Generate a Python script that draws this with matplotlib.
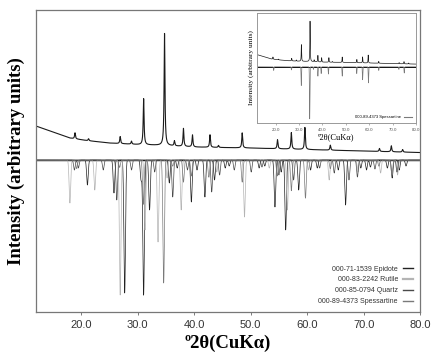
import numpy as np
import matplotlib
matplotlib.use("Agg")
import matplotlib.pyplot as plt

# measured pattern: background points and peaks (2theta, height above background)
bg_pos = [12, 15, 18, 21, 25, 30, 35, 40, 50, 60, 70, 80]
bg_val = [34, 28, 22, 19.5, 17, 15.5, 14.5, 13, 12, 10.5, 9, 7.5]
obs_pos = [18.9, 21.3, 26.9, 28.9, 31.05, 34.75, 36.5, 38.1, 39.7, 42.8, 44.3,
           48.5, 54.75, 57.2, 59.6, 64.1, 72.8, 74.9, 76.9]
obs_int = [6, 2, 7, 3, 46, 112, 5, 18, 12, 12.5, 2, 15, 9, 16.5, 22, 5, 3, 6, 2.5]

# reference patterns (drawn downwards)
epidote_pos = [21.1, 25.8, 27.7, 30.6, 31.05, 32.1, 35.6, 37.0, 39.5, 40.5, 41.9,
               43.6, 45.5, 46.2, 51.5, 52.5, 54.3, 55.4, 56.2, 58.5, 60.6, 61.8,
               65.5, 66.8, 69.5, 70.5, 71.2, 74.2, 75.05, 76.3, 77.5]
epidote_int = [25, 33, 133, 20, 135, 50, 23, 8, 42, 10, 37, 20, 8, 6, 8, 6, 47,
               12, 70, 30, 10, 8, 10, 45, 8, 10, 7, 8, 18, 10, 6]
rutile_pos = [18.0, 22.4, 26.9, 31.3, 33.6, 35.2, 37.7, 44.0, 48.9, 53.3, 56.5,
              60.2, 63.9, 69.0, 73.0, 76.0]
rutile_int = [43, 30, 135, 70, 82, 18, 50, 12, 57, 8, 50, 10, 20, 12, 13, 15]
quartz_pos = [18.8, 19.5, 23.9, 26.3, 28.9, 33.0, 36.2, 38.8, 43.1, 44.5, 47.1,
              50.1, 52.0, 55.0, 57.6, 62.2, 64.8, 67.4, 68.9, 72.0, 75.9]
quartz_int = [10, 8, 10, 40, 10, 12, 37, 10, 32, 15, 10, 12, 7, 15, 20, 8, 13,
              20, 17, 9, 12]
spess_pos = [19.2, 26.8, 31.0, 34.6, 36.2, 38.1, 39.5, 42.6, 48.5, 54.7, 57.2,
             59.7, 64.1, 72.7, 75.0]
spess_int = [7, 6, 36, 100, 5, 18, 13, 14, 18, 13, 25, 31, 7, 5, 12]

labels = ["000-71-1539 Epidote", "000-83-2242 Rutile", "000-85-0794 Quartz",
          "000-89-4373 Spessartine"]
colors = ["#222222", "#b4b4b4", "#4a4a4a", "#7a7a7a"]
xticks = [20, 30, 40, 50, 60, 70, 80]

tt = np.arange(12, 80.005, 0.01)


def profile(pos, inten, w, kind="lor"):
    y = np.zeros_like(tt)
    for p, h in zip(pos, inten):
        if kind == "lor":
            y += h / (1 + ((tt - p) / (w / 2)) ** 2)
        else:
            y += h * np.exp(-0.5 * ((tt - p) / w) ** 2)
    return y


obs = np.interp(tt, bg_pos, bg_val) + profile(obs_pos, obs_int, 0.18)

fig = plt.figure(figsize=(4.36, 3.54), dpi=100)
ax = fig.add_axes([0.0826, 0.1186, 0.881, 0.853])

ax.plot(tt, obs, color="#1a1a1a", lw=0.8)
ax.axhline(0, color="black", lw=1)
sets = [(epidote_pos, epidote_int), (rutile_pos, rutile_int),
        (quartz_pos, quartz_int), (spess_pos, [v * 1.23 for v in spess_int])]
for (pos, inten), c, lab in zip(sets, colors, labels):
    ax.plot(tt, -profile(pos, inten, 0.14, "gauss"), color=c, lw=0.5)
    # legend handle
    ax.plot([], [], color=c, lw=1.0 if c != "#b4b4b4" else 1.6, label=lab)

ax.set_xlim(12, 80)
ax.set_ylim(-152, 150)
ax.set_xticks(xticks)
ax.set_xticklabels([f"{v:.1f}" for v in xticks], fontsize=8, family="Liberation Sans", color="#333333")
ax.set_yticks([])
ax.tick_params(axis="x", length=2, width=0.6, color="#666666", pad=4)
for s in ax.spines.values():
    s.set_color("#777777")
    s.set_linewidth(0.9)
ax.set_xlabel("º2θ(CuKα)", fontsize=13.5, family="Liberation Serif", fontweight="bold", labelpad=3)
ax.set_ylabel("Intensity (arbitrary units)", fontsize=13.5, family="Liberation Serif", fontweight="bold", labelpad=8)

leg = ax.legend(loc="lower right", frameon=False, markerfirst=False,
                handlelength=1.4, labelspacing=0.55, borderaxespad=0.6,
                prop={"family": "Liberation Sans", "size": 5})
for t in leg.get_texts():
    t.set_color("#333333")

# inset: spessartine only
ins = fig.add_axes([0.589, 0.653, 0.365, 0.311])
ins.plot(tt, obs * 0.36, color="#1a1a1a", lw=0.5)
ins.axhline(0, color="black", lw=0.7)
ins.plot(tt, -profile(spess_pos, [v * 0.52 for v in spess_int], 0.1, "gauss"),
         color="#7a7a7a", lw=0.5)
ins.plot([], [], color="#7a7a7a", lw=0.8, label=labels[3])
ins.set_xlim(12, 80)
ins.set_ylim(-56, 54)
ins.set_xticks(xticks)
ins.set_xticklabels([f"{v:.1f}" for v in xticks], fontsize=3.2, family="Liberation Sans", color="#555555")
ins.set_yticks([])
ins.tick_params(axis="x", length=1.5, width=0.4, color="#777777", pad=2)
for s in ins.spines.values():
    s.set_color("#999999")
    s.set_linewidth(0.7)
ins.set_xlabel("º2θ(CuKα)", fontsize=6, family="Liberation Serif", labelpad=1)
ins.set_ylabel("Intensity (arbitrary units)", fontsize=5.3, family="Liberation Serif", labelpad=2)
ins.legend(loc="lower right", frameon=False, markerfirst=False, handlelength=2,
           prop={"family": "Liberation Sans", "size": 3})

fig.savefig("out.png", dpi=100)
